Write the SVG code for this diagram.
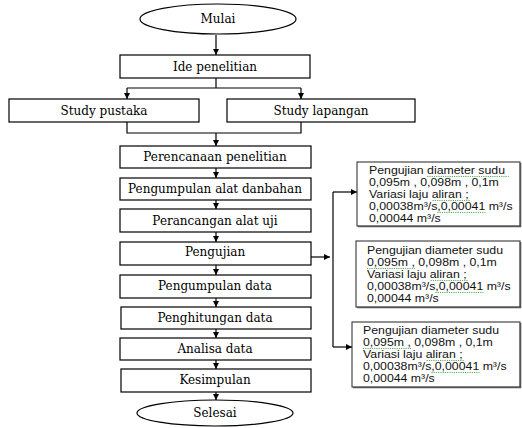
<svg xmlns="http://www.w3.org/2000/svg" width="522" height="428" viewBox="0 0 522 428">
<defs>
<marker id="ah" viewBox="0 0 10 10" refX="10" refY="5" markerWidth="6" markerHeight="6" markerUnits="userSpaceOnUse" orient="auto">
<path d="M0,0 L10,5 L0,10 Z" fill="#000"/>
</marker>
<style>
.b{fill:#fff;stroke:#000;stroke-width:1.2}
.rb{fill:#fff;stroke:#222;stroke-width:1}
.sh{fill:none;stroke:#555;stroke-width:1.6}
.t{font-family:"DejaVu Serif","Liberation Serif",serif;font-size:12px;fill:#000;text-anchor:middle}
.s{font-family:"Liberation Sans",Arial,sans-serif;font-size:11px;fill:#111}
.c{fill:none;stroke:#000;stroke-width:1.2}
.a{fill:none;stroke:#000;stroke-width:1.2;marker-end:url(#ah)}
.w{fill:none;stroke:#5a5;stroke-width:1.1;stroke-dasharray:1 1}
</style>
</defs>
<rect width="522" height="428" fill="#fff"/>
<g id="connectors">
<line class="a" x1="216" y1="35" x2="216" y2="55"/>
<polyline class="c" points="216,78 216,88"/>
<line class="c" x1="127" y1="88" x2="301" y2="88"/>
<line class="a" x1="127" y1="88" x2="127" y2="99"/>
<line class="a" x1="301" y1="88" x2="301" y2="99"/>
<polyline class="c" points="127,122 127,133 301,133 301,122"/>
<line class="a" x1="216" y1="133" x2="216" y2="146"/>
<line class="a" x1="216" y1="168" x2="216" y2="178"/>
<line class="a" x1="216" y1="200" x2="216" y2="209"/>
<line class="a" x1="216" y1="232" x2="216" y2="242"/>
<line class="a" x1="216" y1="265" x2="216" y2="275"/>
<line class="a" x1="216" y1="298" x2="216" y2="307"/>
<line class="a" x1="216" y1="329" x2="216" y2="338"/>
<line class="a" x1="216" y1="360" x2="216" y2="369"/>
<line class="a" x1="216" y1="392" x2="216" y2="400"/>
<line class="a" x1="311" y1="257" x2="330" y2="257"/>
<line class="c" x1="333" y1="192" x2="333" y2="347"/>
<line class="a" x1="333" y1="192" x2="357" y2="192"/>
<line class="a" x1="333" y1="347" x2="352" y2="347"/>
</g>
<g id="mulai">
<ellipse class="b" cx="218" cy="19" rx="78" ry="15"/>
<text class="t" x="218" y="23">Mulai</text>
</g>
<g id="ide">
<rect class="b" x="120" y="55" width="190" height="23"/>
<text class="t" x="215" y="71">Ide penelitian</text>
</g>
<g id="pustaka">
<rect class="b" x="9" y="99" width="190" height="23"/>
<text class="t" x="104" y="115">Study pustaka</text>
</g>
<g id="lapangan">
<rect class="b" x="227" y="99" width="188" height="23"/>
<text class="t" x="321" y="115">Study lapangan</text>
</g>
<g id="perencanaan">
<rect class="b" x="120" y="146" width="191" height="22"/>
<text class="t" x="215" y="161">Perencanaan penelitian</text>
</g>
<g id="pengumpulan-alat">
<rect class="b" x="120" y="178" width="191" height="22"/>
<text class="t" x="215" y="193">Pengumpulan alat danbahan</text>
</g>
<g id="perancangan">
<rect class="b" x="120" y="209" width="191" height="23"/>
<text class="t" x="215" y="225">Perancangan alat uji</text>
</g>
<g id="pengujian">
<rect class="b" x="120" y="242" width="191" height="23"/>
<text class="t" x="215" y="256">Pengujian</text>
</g>
<g id="pengumpulan-data">
<rect class="b" x="120" y="275" width="191" height="23"/>
<text class="t" x="215" y="290">Pengumpulan data</text>
</g>
<g id="penghitungan">
<rect class="b" x="121" y="307" width="190" height="22"/>
<text class="t" x="215" y="322">Penghitungan data</text>
</g>
<g id="analisa">
<rect class="b" x="120" y="338" width="191" height="22"/>
<text class="t" x="215" y="353">Analisa data</text>
</g>
<g id="kesimpulan">
<rect class="b" x="121" y="369" width="190" height="23"/>
<text class="t" x="215" y="384">Kesimpulan</text>
</g>
<g id="selesai">
<ellipse class="b" cx="215" cy="413" rx="78" ry="13"/>
<text class="t" x="215" y="417">Selesai</text>
</g>
<g id="uji1">
<rect class="rb" x="357" y="162" width="163" height="64"/>
<polyline class="sh" points="358,226.5 520.5,226.5 520.5,163"/>
<g transform="translate(369,0) scale(1.12,1)">
<text class="s" x="0" y="174">Pengujian diameter  sudu</text>
<text class="s" x="0" y="186">0,095m , 0,098m , 0,1m</text>
<text class="s" x="0" y="198">Variasi laju aliran ;</text>
<text class="s" x="0" y="210">0,00038m³/s,0,00041 m³/s</text>
<text class="s" x="0" y="222">0,00044 m³/s</text>
<line class="w" x1="52" y1="176.5" x2="124.7" y2="176.5"/>
<line class="w" x1="56.8" y1="200.5" x2="89.9" y2="200.5"/>
<line class="w" x1="61.1" y1="212.5" x2="103.9" y2="212.5"/>
</g>
</g>
<g id="uji2">
<rect class="rb" x="356" y="241" width="164" height="66"/>
<polyline class="sh" points="357,307.5 520.5,307.5 520.5,242"/>
<g transform="translate(367,0) scale(1.12,1)">
<text class="s" x="0" y="254">Pengujian diameter sudu</text>
<text class="s" x="0" y="266">0,095m , 0,098m , 0,1m</text>
<text class="s" x="0" y="278">Variasi laju aliran ;</text>
<text class="s" x="0" y="290">0,00038m³/s,0,00041 m³/s</text>
<text class="s" x="0" y="302">0,00044 m³/s</text>
<line class="w" x1="0" y1="268.5" x2="42.8" y2="268.5"/>
<line class="w" x1="56.8" y1="280.5" x2="89.9" y2="280.5"/>
<line class="w" x1="61.1" y1="292.5" x2="103.9" y2="292.5"/>
</g>
</g>
<g id="uji3">
<rect class="rb" x="352" y="322" width="168" height="65"/>
<polyline class="sh" points="353,387.5 520.5,387.5 520.5,323"/>
<g transform="translate(363,0) scale(1.12,1)">
<text class="s" x="0" y="334">Pengujian diameter sudu</text>
<text class="s" x="0" y="346">0,095m , 0,098m , 0,1m</text>
<text class="s" x="0" y="358">Variasi laju aliran ;</text>
<text class="s" x="0" y="370">0,00038m³/s,0,00041 m³/s</text>
<text class="s" x="0" y="382">0,00044 m³/s</text>
<line class="w" x1="0" y1="348.5" x2="42.8" y2="348.5"/>
<line class="w" x1="56.8" y1="360.5" x2="89.9" y2="360.5"/>
<line class="w" x1="61.1" y1="372.5" x2="103.9" y2="372.5"/>
</g>
</g>
</svg>
